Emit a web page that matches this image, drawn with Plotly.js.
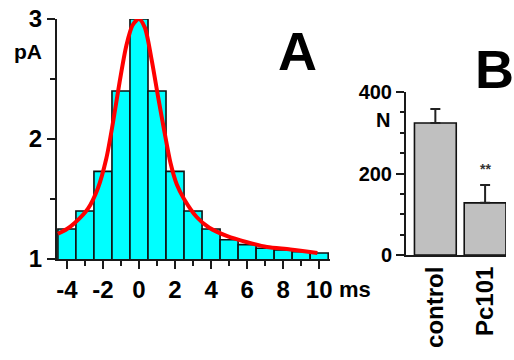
<!DOCTYPE html>
<html>
<head>
<meta charset="utf-8">
<script src="https://cdn.plot.ly/plotly-3.0.1.min.js"></script>
<style>html,body{margin:0;padding:0;background:#fff;}#chart{width:514px;height:360px;}</style>
</head>
<body>
<div id="chart"></div>
<script>
// Panel A: amplitude histogram (pA) vs time (ms)
const histX = [-4, -3, -2, -1, 0, 1, 2, 3, 4, 5, 6, 7, 8, 9, 10];
const histY = [1.25, 1.40, 1.73, 2.40, 3.0, 2.40, 1.73, 1.40, 1.25, 1.16, 1.12, 1.09, 1.075, 1.06, 1.05];
// Panel A: fitted red curve
const curveX = [-4.5, -4.0, -3.57, -2.83, -2.28, -1.81, -1.44, -1.07, -0.70, -0.35, 0, 0.32, 0.69, 1.05, 1.4, 1.75, 2.1, 2.5, 3.2, 3.9, 4.9, 6.0, 7.1, 8.4, 9.9];
const curveY = [1.21, 1.25, 1.30, 1.42, 1.59, 1.84, 2.14, 2.48, 2.78, 2.95, 3.0, 2.93, 2.67, 2.36, 2.07, 1.80, 1.62, 1.50, 1.35, 1.26, 1.19, 1.14, 1.10, 1.08, 1.05];
const xTickVals = [-4, -2, 0, 2, 4, 6, 8, 10];
const xTickText = ["-4", "-2", "0", "2", "4", "6", "8", "10"];
const yTickValsA = [1, 2, 3];
// Panel B: bar chart
const groups = ["control", "Pc101"];
const groupValues = [324, 128];
const groupErrors = [34, 44];
const yTickValsB = [0, 200, 400];

const W = 514, H = 360;
const FONT = "Liberation Sans, Arial, Helvetica, sans-serif";
const AX = "#1a1a1a";

const traces = [
  {
    type: "bar", x: histX, y: histY, xaxis: "x", yaxis: "y",
    marker: {color: "#00ffff", line: {color: "#111", width: 1.6}},
    width: 1, hoverinfo: "skip"
  },
  {
    type: "scatter", mode: "lines", x: curveX, y: curveY, xaxis: "x", yaxis: "y",
    line: {color: "#ff0000", width: 4, shape: "spline", smoothing: 0.8}, hoverinfo: "skip"
  },
  {
    type: "bar", x: groups, y: groupValues, xaxis: "x2", yaxis: "y2",
    marker: {color: "#c0c0c0", line: {color: "#111", width: 1.6}},
    width: 0.84,
    error_y: {type: "data", symmetric: false, array: groupErrors, arrayminus: [0, 0], color: "#222", thickness: 2, width: 5},
    hoverinfo: "skip"
  }
];

const tickFontBig = {family: FONT, size: 24, color: "#000", weight: "bold"};
const tickFontB = {family: FONT, size: 20, color: "#000", weight: "bold"};

const layout = {
  width: W, height: H, autosize: false,
  margin: {l: 0, r: 0, t: 0, b: 0, pad: 0},
  paper_bgcolor: "#fff", plot_bgcolor: "rgba(0,0,0,0)",
  showlegend: false, bargap: 0,
  xaxis: {
    domain: [57 / W, 330 / W], range: [-4.55, 10.6],
    showgrid: false, zeroline: false, showline: true, linecolor: AX, linewidth: 2,
    ticks: "outside", ticklen: 8, tickwidth: 2, tickcolor: AX,
    tickvals: xTickVals, ticktext: xTickText, tickfont: tickFontBig,
    minor: {dtick: 1, tick0: 0, ticks: "outside", ticklen: 5, tickwidth: 2, tickcolor: AX, showgrid: false},
    anchor: "y", fixedrange: true
  },
  yaxis: {
    domain: [1 - 259 / H, 1 - 19 / H], range: [1, 3],
    showgrid: false, zeroline: false, showline: true, linecolor: AX, linewidth: 2,
    ticks: "outside", ticklen: 8, tickwidth: 2, tickcolor: AX,
    tickvals: yTickValsA, tickfont: tickFontBig,
    minor: {dtick: 0.5, tick0: 1, ticks: "outside", ticklen: 5, tickwidth: 2, tickcolor: AX, showgrid: false},
    anchor: "x", fixedrange: true
  },
  xaxis2: {
    domain: [406 / W, 506 / W], range: [-0.59, 1.42],
    showgrid: false, zeroline: false, showline: true, linecolor: AX, linewidth: 2,
    ticks: "", tickangle: -90, tickfont: {family: FONT, size: 24, color: "#000", weight: "bold"},
    anchor: "y2", fixedrange: true
  },
  yaxis2: {
    domain: [1 - 255 / H, 1 - 92 / H], range: [0, 400],
    showgrid: false, zeroline: false, showline: true, linecolor: AX, linewidth: 2,
    ticks: "outside", ticklen: 8, tickwidth: 2, tickcolor: AX,
    tickvals: yTickValsB, tickfont: tickFontB,
    minor: {dtick: 50, tick0: 0, ticks: "outside", ticklen: 4, tickwidth: 2, tickcolor: AX, showgrid: false},
    anchor: "x2", fixedrange: true
  },
  annotations: [
    {text: "A", xref: "paper", yref: "paper", x: 297 / W, y: 1 - 51 / H, xanchor: "center", yanchor: "middle", showarrow: false,
     font: {family: FONT, size: 54, color: "#000", weight: "bold"}},
    {text: "B", xref: "paper", yref: "paper", x: 494 / W, y: 1 - 69 / H, xanchor: "center", yanchor: "middle", showarrow: false,
     font: {family: FONT, size: 54, color: "#000", weight: "bold"}},
    {text: "pA", xref: "paper", yref: "paper", x: 28 / W, y: 1 - 52 / H, xanchor: "center", yanchor: "middle", showarrow: false,
     font: {family: FONT, size: 21, color: "#000", weight: "bold"}},
    {text: "N", xref: "paper", yref: "paper", x: 383 / W, y: 1 - 120 / H, xanchor: "center", yanchor: "middle", showarrow: false,
     font: {family: FONT, size: 20, color: "#000", weight: "bold"}},
    {text: "ms", xref: "paper", yref: "paper", x: 355 / W, y: 1 - 289 / H, xanchor: "center", yanchor: "middle", showarrow: false,
     font: {family: FONT, size: 22, color: "#000", weight: "bold"}},
    {text: "**", xref: "x2", yref: "y2", x: 1, y: 212, xanchor: "center", yanchor: "middle", showarrow: false,
     font: {family: FONT, size: 14, color: "#333", weight: "bold"}}
  ]
};

Plotly.newPlot("chart", traces, layout, {staticPlot: true, displayModeBar: false});
</script>
</body>
</html>
